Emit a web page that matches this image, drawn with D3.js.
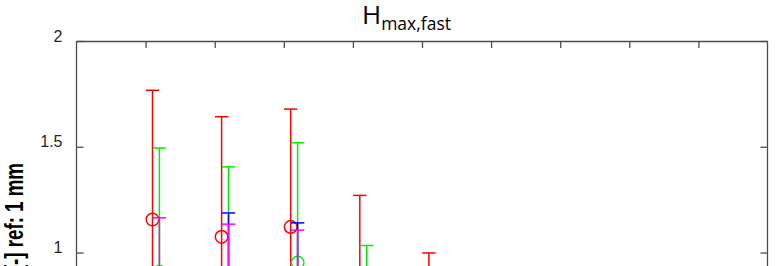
<!DOCTYPE html>
<html>
<head>
<meta charset="utf-8">
<script src="https://cdn.jsdelivr.net/npm/d3@7"></script>
<style>
    body { margin: 0; background: #fff; }
    svg { display: block; overflow: hidden; }
</style>
</head>
<body>
<div id="chart"></div>
<script>
// Group positions on the x axis (top ticks 1..9)
var xTicks = [1, 2, 3, 4, 5, 6, 7, 8, 9];
// only the ticks that fall inside the visible window
var yTicks = [1, 1.5, 2];
var yTickLabels = ['1', '1.5', '2'];

// Each series: group index, mean and half error (symmetric bars)
var redGroups = [1, 2, 3, 4, 5];
var redMean = [1.156, 1.074, 1.121, 0.78, 0.62];
var redErr = [0.611, 0.568, 0.557, 0.49, 0.378];

var greenGroups = [1, 2, 3, 4];
var greenMean = [0.909, 0.87, 0.952, 0.70];
var greenErr = [0.585, 0.535, 0.567, 0.333];

var blueGroups = [1, 2, 3];
var blueMean = [0.70, 0.82, 0.84];
var blueErr = [0.20, 0.367, 0.30];

var magentaGroups = [1, 2, 3];
var magentaMean = [0.83, 0.80, 0.78];
var magentaErr = [0.334, 0.334, 0.326];

var series = [
    {groups: redGroups, mean: redMean, err: redErr, color: '#ff0000', shift: 0.1},
    {groups: greenGroups, mean: greenMean, err: greenErr, color: '#00ee00', shift: 0.2},
    {groups: blueGroups, mean: blueMean, err: blueErr, color: '#0000ff', shift: 0.2},
    {groups: magentaGroups, mean: magentaMean, err: magentaErr, color: '#ff00ff', shift: 0.2}
];

var width = 779;
var height = 266;
var axisColor = '#4d4d4d';

var svg = d3.select('#chart').append('svg')
    .attr('width', width)
    .attr('height', height);

var xScale = d3.scaleLinear()
    .domain([0, 10])
    .range([76.5, 767.5]);

// full axes box runs below the visible window
var yScale = d3.scaleLinear()
    .domain([0, 2])
    .range([464, 41]);

// Left axis with labels
var yAxis = svg.append('g')
    .attr('class', 'axis y-axis')
    .attr('transform', 'translate(' + xScale(0) + ',0)')
    .call(d3.axisLeft(yScale)
        .tickValues(yTicks)
        .tickFormat(function(d, i) { return yTickLabels[i]; })
        .tickSizeInner(-7)
        .tickSizeOuter(0)
        .tickPadding(14));

yAxis.selectAll('text')
    .attr('dy', 0)
    .style('font-family', 'Liberation Sans, Arial, sans-serif')
    .style('font-size', '16px')
    .attr('fill', '#262626');

// Right axis, ticks only
var yAxisRight = svg.append('g')
    .attr('class', 'axis y-axis-right')
    .attr('transform', 'translate(' + xScale(10) + ',0)')
    .call(d3.axisRight(yScale)
        .tickValues(yTicks)
        .tickFormat('')
        .tickSizeInner(-7)
        .tickSizeOuter(0));

// Top axis, ticks only
var xAxisTop = svg.append('g')
    .attr('class', 'axis x-axis-top')
    .attr('transform', 'translate(0,' + yScale(2) + ')')
    .call(d3.axisTop(xScale)
        .tickValues(xTicks)
        .tickFormat('')
        .tickSizeInner(-7)
        .tickSizeOuter(0));

// domain lines must run the whole box, not just the tick range
yAxis.select('.domain').attr('d', 'M0,' + yScale(0) + 'V' + yScale(2));
yAxisRight.select('.domain').attr('d', 'M0,' + yScale(0) + 'V' + yScale(2));

svg.selectAll('.axis path, .axis line')
    .attr('stroke', axisColor)
    .attr('stroke-width', 1.3);

// Error bars, drawn series by series
var capHalf = 6.7;

series.forEach(function(s) {
    var rows = s.groups.map(function(g, i) {
        return {x: g + s.shift, mean: s.mean[i], lo: s.mean[i] - s.err[i], hi: s.mean[i] + s.err[i]};
    });

    var grp = svg.append('g')
        .attr('stroke', s.color)
        .attr('stroke-width', 1.5)
        .attr('fill', 'none');

    grp.selectAll('.bar')
        .data(rows).enter()
        .append('line')
            .attr('x1', function(d) { return xScale(d.x); })
            .attr('x2', function(d) { return xScale(d.x); })
            .attr('y1', function(d) { return yScale(d.lo); })
            .attr('y2', function(d) { return yScale(d.hi); });

    grp.selectAll('.cap-hi')
        .data(rows).enter()
        .append('line')
            .attr('x1', function(d) { return xScale(d.x) - capHalf; })
            .attr('x2', function(d) { return xScale(d.x) + capHalf; })
            .attr('y1', function(d) { return yScale(d.hi); })
            .attr('y2', function(d) { return yScale(d.hi); });

    grp.selectAll('.cap-lo')
        .data(rows).enter()
        .append('line')
            .attr('x1', function(d) { return xScale(d.x) - capHalf; })
            .attr('x2', function(d) { return xScale(d.x) + capHalf; })
            .attr('y1', function(d) { return yScale(d.lo); })
            .attr('y2', function(d) { return yScale(d.lo); });

    grp.selectAll('circle')
        .data(rows).enter()
        .append('circle')
            .attr('r', 6.3)
            .attr('cx', function(d) { return xScale(d.x); })
            .attr('cy', function(d) { return yScale(d.mean); });
});

// Title with subscript
var title = svg.append('text')
    .attr('x', 362)
    .attr('y', 24)
    .attr('fill', '#000')
    .style('font-family', 'Open Sans, Noto Sans, sans-serif');
title.append('tspan')
    .style('font-size', '26px')
    .text('H');
title.append('tspan')
    .attr('dy', 6)
    .style('font-size', '17.5px')
    .text('max,fast');

// Y label, rotated and squeezed along its length
svg.append('text')
    .attr('transform', 'translate(23,163) rotate(-90) scale(0.72,1)')
    .attr('text-anchor', 'end')
    .attr('fill', '#000')
    .style('font-family', 'Liberation Sans, Arial, sans-serif')
    .style('font-weight', 'bold')
    .style('font-size', '26px')
    .text('H [-] ref: 1 mm');
</script>
</body>
</html>
